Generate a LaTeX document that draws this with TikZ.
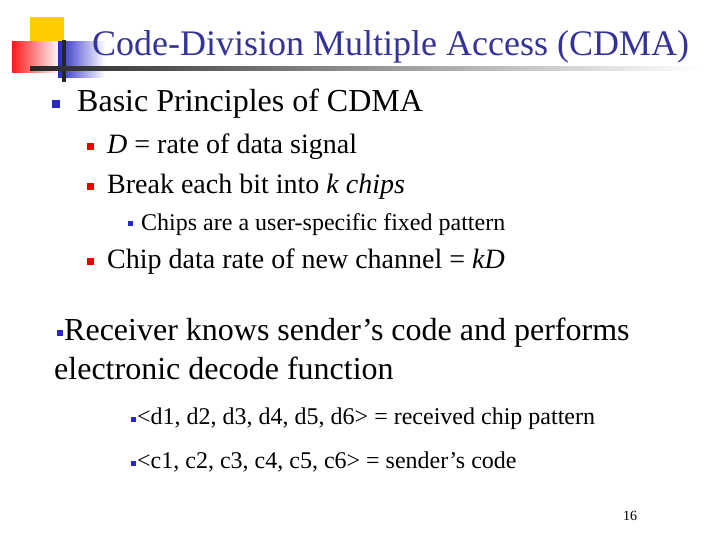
\documentclass[tikz,border=0pt]{standalone}
\usepackage{fontspec}
\setmainfont{Liberation Serif}
\usetikzlibrary{positioning}
\definecolor{titleblue}{RGB}{51,51,153}
\definecolor{bulletblue}{RGB}{40,40,200}
\definecolor{bulletred}{RGB}{230,0,0}
\definecolor{logoyellow}{RGB}{255,204,0}
\begin{document}
\begin{tikzpicture}
        [
            x = 1pt, y = -1pt,
            txt/.style = {anchor=base west, inner sep=0pt},
            lone/.style = {txt, font=\fontsize{32}{36}\selectfont},
            ltwo/.style = {txt, font=\fontsize{28}{32}\selectfont},
            lthree/.style = {txt, font=\fontsize{24}{28}\selectfont},
            bul/.style = {fill=#1, minimum size=7pt, inner sep=0pt}
        ]
        \useasboundingbox (0,0) rectangle (720,540);
        % logo
        \fill [logoyellow] (30,17) rectangle (64,44);
        \shade [left color=red!90, right color=white] (12,42) rectangle (60,73);
        \shade [left color=bulletblue, right color=white] (58,42) rectangle (105,78);
        \fill [black!85] (62,40) rectangle (66,82);
        \shade [left color=black!85, right color=white] (30,67) rectangle (700,71);
        % title
        \node [txt, font=\fontsize{36}{40}\selectfont, text=titleblue] (title) at (92,56) {Code-Division Multiple Access (CDMA)};
        % bullets
        \node [bul=bulletblue, minimum size=8pt] (b1) at (56,104) {};
        \node [lone] (basic) at (77,112) {Basic Principles of CDMA};
        \node [bul=bulletred, minimum size=7pt] (b2) at (90,147) {};
        \node [ltwo] (rate) at (107,154) {\textit{D} = rate of data signal};
        \node [bul=bulletred, minimum size=7pt] (b3) at (90,187) {};
        \node [ltwo] (break) at (107,194) {Break each bit into \textit{k chips}};
        \node [bul=bulletblue, minimum size=5pt] (b4) at (130,224) {};
        \node [lthree] (chips) at (141,230) {Chips are a user-specific fixed pattern};
        \node [bul=bulletred, minimum size=7pt] (b5) at (90,261) {};
        \node [ltwo] (chiprate) at (107,268) {Chip data rate of new channel = \textit{kD}};
        \node [bul=bulletblue, minimum size=6pt] (b6) at (60,333) {};
        \node [lone] (recv) at (64,340) {Receiver knows sender’s code and performs};
        \node [lone] (elec) at (54,379) {electronic decode function};
        \node [bul=bulletblue, minimum size=5pt] (b7) at (133,419) {};
        \node [lthree] (dpat) at (137,424) {<d1, d2, d3, d4, d5, d6> = received chip pattern};
        \node [bul=bulletblue, minimum size=5pt] (b8) at (133,463) {};
        \node [lthree] (cpat) at (137,468) {<c1, c2, c3, c4, c5, c6> = sender’s code};
        \node [txt, font=\fontsize{14}{16}\selectfont] (page) at (623,520) {16};
    \end{tikzpicture}
\end{document}
